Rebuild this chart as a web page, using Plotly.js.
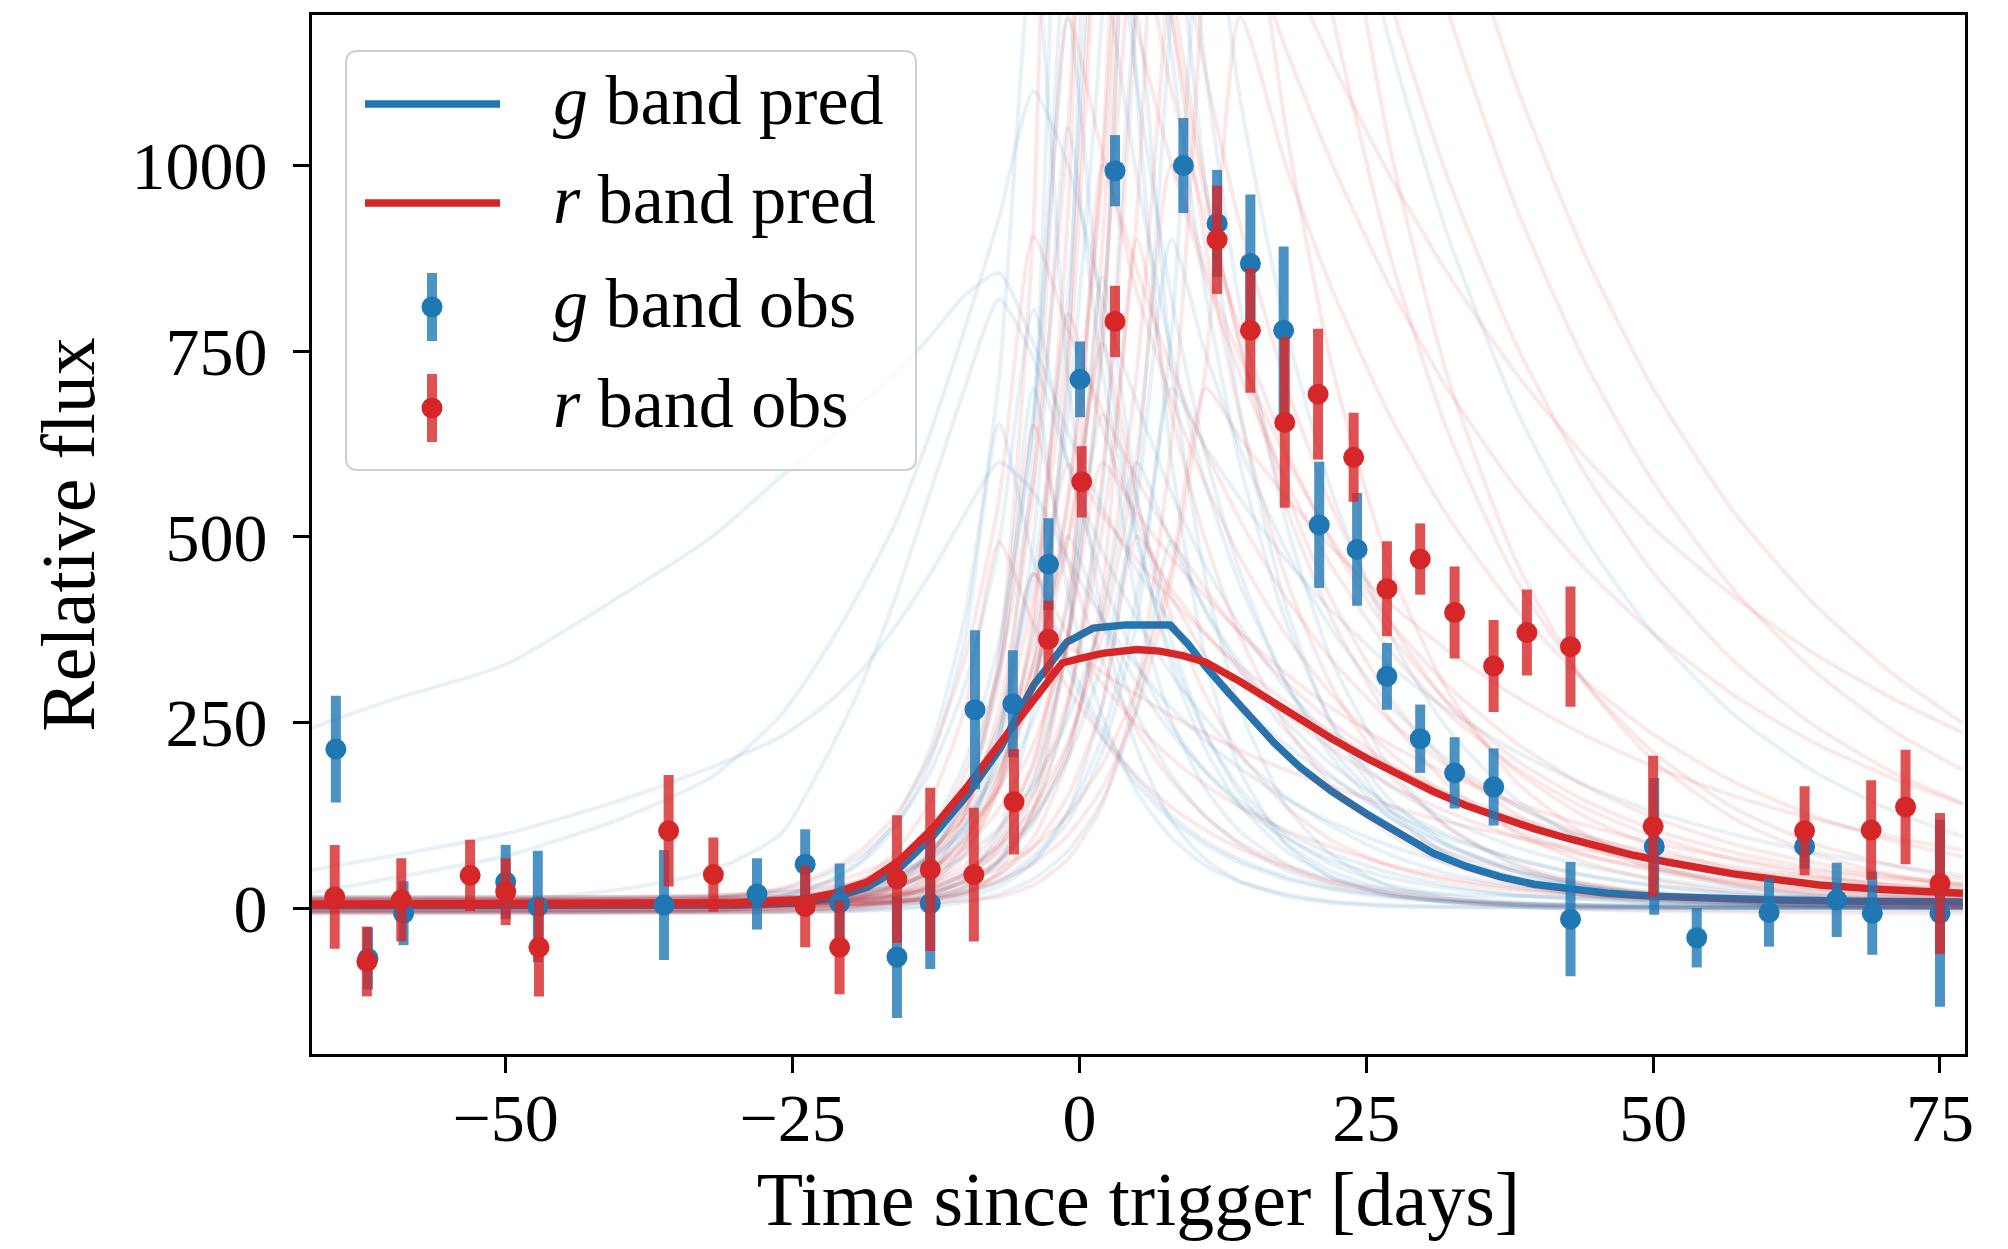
<!DOCTYPE html>
<html><head><meta charset="utf-8">
<script src="https://cdn.plot.ly/plotly-3.0.1.min.js"></script>
<style>html,body{margin:0;padding:0;background:#fff}#chart{width:2008px;height:1249px}</style>
</head><body><div id="chart"></div>
<script>
// ---------- data ----------
const xTickVals = [-50, -25, 0, 25, 50, 75];
const yTickVals = [0, 250, 500, 750, 1000];
const legendLabels = ['<i>g</i> band pred', '<i>r</i> band pred', '<i>g</i> band obs', '<i>r</i> band obs'];

// observations (days, flux, 1-sigma error)
const gObsDays = [-64.8,-62.0,-58.9,-50.0,-47.2,-36.2,-28.1,-23.9,-20.9,-15.9,-13.0,-9.1,-5.8,-2.7,0.05,3.1,9.06,12.0,14.9,17.8,20.9,24.2,26.8,29.7,32.7,36.1,42.8,50.1,53.8,60.1,63.2,66.0,69.1,75.0];
const gObsFlux = [214,-68,-7,35,2,4,19,59,7,-66,6,267,275,463,712,993,1000,922,868,778,516,483,312,228,182,163,-15,83,-40,-6,83,11,-7,-7];
const gObsErr  = [72,42,43,50,75,74,48,47,53,82,88,107,72,62,51,48,64,72,93,113,85,76,45,46,48,52,77,92,40,46,30,50,56,126];

const rObsDays = [-64.9,-62.1,-59.1,-53.1,-50.0,-47.1,-35.8,-31.9,-23.9,-20.9,-15.9,-13.0,-9.2,-5.7,-2.7,0.2,3.1,12.0,14.9,17.9,20.8,23.9,26.8,29.7,32.7,36.1,39.0,42.8,50.0,63.2,69.0,72.0,75.0];
const rObsFlux = [15,-72,11,44,22,-53,104,45,2,-53,39,52,45,143,362,574,790,900,778,654,692,607,430,470,398,326,371,352,110,104,105,136,33];
const rObsErr  = [70,47,56,48,45,66,75,50,55,63,86,110,90,71,52,48,48,73,84,115,88,60,64,48,62,62,58,81,95,60,67,77,95];

// mean predictions
const gPredDays = [-67,-40,-30,-24,-21.4,-18.5,-15.6,-12.7,-9.8,-6.9,-4,-1.1,1.2,4,7.9,9.5,11,13,15,17,19.2,22,25,28,30.8,33.7,36.7,39.6,42.5,46,50,55,60,68,77];
const gPredFlux = [3,3,4,7,14,28,55,98,152,215,300,358,377,381,381,355,325,290,255,222,190,157,127,99,74,56,42,32,26,20,16,13,11,9,8];
const rPredDays = [-67,-40,-30,-24.4,-21.4,-18.5,-15.6,-12.7,-9.8,-6.9,-4,-1.5,0,2,5,7,9,11,14,17,19.2,22,25,28,30.8,33.7,36.7,39.6,42.5,45.4,48.3,51.2,54.1,57,59.9,64.5,70,77];
const rPredFlux = [5,5,7,11,20,35,65,109,163,222,280,330,336,343,348,346,340,331,305,276,255,228,202,178,157,138,121,107,94,82,71,62,53,46,40,31,25,20];

// faint posterior sample curves, read on a common day grid
const sampleDays = [-67,-60,-50,-40,-32,-26,-22,-19,-16,-13,-10,-7,-4,-1,2,5,8,11,14,18,22,27,32,38,44,50,57,64,71,77];
const gSamples = [
 [242,280,328,420,500,581,630,680,720,770,825,855,760,640,540,455,385,325,275,220,175,130,95,66,45,31,20,13,9,6],
 [51,70,100,145,190,231,275,320,380,450,530,600,560,470,390,325,270,225,188,147,115,84,61,42,29,20,13,8,5,4],
 [20,40,70,120,177,260,350,430,520,640,780,930,1100,1000,820,680,560,460,380,295,230,165,120,82,57,40,26,17,11,7],
 [2,4,10,25,50,100,205,300,420,560,700,820,740,600,480,390,315,255,205,150,110,72,47,29,18,11,6,4,2,1],
 [6,6,6,6,6,6,8,13,25,52,110,234,496,1050,722,496,341,234,161,97,59,31,17,8,4,2,1,1,1,1],
 [-4,-4,-4,-4,-3,4,12,22,41,75,136,248,452,823,1500,1111,823,610,452,303,203,123,75,41,22,12,6,3,2,1],
 [10,10,10,10,10,11,13,18,35,74,156,331,700,425,258,156,95,57,35,19,9,4,2,1,1,1,0,0,0,0],
 [2,2,2,2,3,5,10,18,33,60,110,200,363,663,1208,2200,1577,1129,809,520,333,191,110,57,29,15,7,3,2,1],
 [14,14,14,14,15,17,20,27,41,68,112,184,303,500,389,303,236,184,143,102,73,48,31,18,12,7,4,2,1,1],
 [-6,-6,-6,-6,-6,-5,-4,-3,0,5,14,29,61,130,274,580,1228,2600,2238,1832,1501,1169,910,674,499,370,261,184,130,96],
 [8,8,8,8,8,8,8,9,10,14,28,65,153,361,850,554,361,235,153,87,49,24,12,6,3,1,0,0,0,0],
 [3,3,3,3,6,16,36,65,118,215,391,714,1300,714,391,215,118,65,36,16,7,2,1,1,0,0,0,0,0,0],
 [12,12,12,12,13,14,17,21,30,46,70,108,166,255,391,600,491,402,329,252,193,139,99,66,44,30,19,12,7,5],
 [-2,-2,-2,-2,-2,-1,0,3,11,31,85,230,625,1700,1294,985,750,571,435,304,213,134,85,49,29,17,9,5,3,1],
 [5,5,5,5,6,7,8,11,16,27,45,74,122,201,331,546,900,746,619,482,375,274,201,138,95,65,42,27,18,13],
 [9,9,9,9,9,10,10,11,13,20,35,63,114,209,380,261,179,123,85,51,31,17,9,4,2,1,1,0,0,0],
 [-5,-5,-5,-5,-5,-4,-2,0,4,10,21,38,70,127,231,421,768,1400,1090,781,560,369,243,147,90,54,30,17,10,6],
 [7,7,7,7,7,8,9,13,22,47,100,213,450,322,231,166,119,85,61,39,25,14,8,4,2,1,1,1,0,0],
 [1,1,1,1,1,1,2,3,6,13,28,60,126,268,566,1200,728,442,268,138,71,29,13,4,1,0,0,0,0,0],
 [11,11,11,11,11,12,14,19,33,71,149,316,669,1417,3000,2062,1417,974,669,406,246,132,72,34,17,8,4,2,1,0],
 [4,4,4,4,4,4,5,6,8,12,19,35,64,116,211,384,700,621,551,469,400,327,268,211,166,130,99,75,57,44],
 [5,5,5,7,13,25,45,71,113,183,299,491,805,598,444,331,246,183,137,94,64,41,27,17,12,9,7,6,5,5],
 [-3,-3,-3,-3,-1,5,15,30,57,106,195,358,656,1197,779,506,328,213,138,77,42,19,8,2,-1,-2,-3,-3,-3,-3],
 [15,15,15,15,17,21,27,35,47,68,103,160,254,410,665,410,254,160,103,60,38,25,19,16,15,15,15,15,15,15],
 [8,8,8,8,8,9,10,12,16,26,46,88,177,365,764,1608,1154,829,597,385,250,147,88,49,29,19,13,10,9,8],
 [2,2,2,3,6,16,34,61,109,198,359,652,468,336,241,174,125,90,65,42,27,17,10,6,4,3,2,2,2,2],
 [-6,-6,-6,-6,-6,-6,-5,-4,-2,2,8,19,39,77,145,268,494,398,320,239,178,123,84,53,32,19,9,3,-1,-2],
 [4,4,4,4,4,4,5,6,9,17,41,104,275,740,2004,1102,606,334,185,86,41,17,9,5,4,4,4,4,4,4]
];
const rSamples = [
 [4,4,4,4,5,6,9,15,27,49,90,164,300,545,994,1811,3300,2912,2570,2174,1841,1495,1214,946,737,574,429,320,238,186],
 [-3,-3,-3,-3,-2,0,3,8,17,36,75,159,337,714,1512,3200,2809,2465,2164,1816,1528,1227,988,761,587,452,333,246,182,141],
 [9,9,9,9,10,11,13,17,28,50,92,167,304,554,1010,1840,1653,1485,1334,1157,1003,839,701,567,458,370,287,223,174,140],
 [13,13,13,13,14,15,18,24,38,70,127,231,421,768,1400,1185,1003,849,719,576,460,348,264,189,135,97,65,45,30,21],
 [0,0,0,0,1,3,7,11,18,30,50,82,135,223,368,607,1000,861,741,607,497,387,301,223,165,122,86,61,43,32],
 [6,6,6,6,6,7,8,11,19,40,84,178,378,800,646,521,420,339,274,206,154,108,76,50,33,22,14,9,6,4],
 [-5,-5,-5,-5,-5,-4,-1,3,9,20,36,66,119,218,397,723,1317,2400,1990,1551,1207,883,646,444,305,210,135,87,57,39],
 [11,11,11,11,12,14,17,22,30,49,81,134,221,364,600,532,472,419,371,316,269,221,181,142,112,88,67,50,38,30],
 [2,2,2,2,2,2,3,5,8,18,38,80,169,357,756,1600,1246,971,756,541,389,256,168,102,62,38,22,13,8,5],
 [7,7,7,7,8,10,14,22,41,74,135,247,450,368,302,247,202,166,136,105,82,58,41,27,18,12,8,5,3,2],
 [15,15,15,15,15,15,16,17,19,24,44,94,199,422,893,1890,4000,3228,2605,1960,1473,1029,720,469,305,199,121,73,44,29],
 [-2,-2,-2,-2,-2,-1,0,4,13,30,71,168,396,933,2200,1630,1207,894,662,444,298,181,110,60,33,18,9,4,2,1],
 [5,5,5,5,5,6,6,7,9,13,22,36,60,98,162,268,441,728,1200,1000,834,665,530,403,307,234,170,124,90,69],
 [10,10,10,10,10,11,12,14,18,32,58,105,192,350,317,287,259,235,212,186,163,138,116,96,78,64,50,40,31,26],
 [-6,-6,-6,-6,-6,-5,-4,-2,3,10,21,45,95,201,425,900,667,494,366,245,164,100,60,33,18,10,5,3,1,1],
 [3,3,3,3,4,5,7,10,15,23,35,54,82,126,193,297,456,700,633,554,485,411,348,285,233,191,151,120,95,78],
 [8,8,8,8,8,8,8,9,10,12,18,50,135,368,1000,829,687,570,472,368,287,210,153,105,72,50,32,21,14,10],
 [12,12,12,12,12,13,14,15,18,26,46,85,155,281,512,933,1700,1560,1431,1277,1139,988,857,721,609,512,420,343,281,236],
 [1,1,1,1,1,2,7,15,32,68,145,307,650,466,334,239,172,123,88,57,36,21,12,6,3,2,1,1,1,1],
 [-4,-4,-4,-4,-4,-3,-1,2,7,14,25,45,83,151,274,500,430,370,319,261,214,166,130,96,71,53,37,26,18,14],
 [6,6,6,6,6,6,6,6,7,8,10,15,31,66,139,295,625,1322,2800,2400,2058,1699,1400,1112,882,700,534,410,314,249],
 [9,9,9,9,10,11,12,16,28,60,126,268,566,1200,1016,860,728,616,522,418,334,253,192,138,99,71,48,33,22,16],
 [3,3,3,3,3,3,4,7,17,46,124,338,920,2500,2047,1676,1372,1123,920,705,540,387,277,185,124,83,52,34,22,15],
 [4,4,4,6,12,27,49,78,126,205,335,550,904,779,671,578,498,429,370,304,250,195,152,114,86,64,46,34,25,19],
 [-3,-3,-3,-3,-2,1,6,13,27,51,96,178,326,597,529,469,416,368,326,278,236,192,156,122,96,75,56,42,31,23],
 [7,7,7,8,9,14,23,36,59,102,179,321,579,1050,1907,1516,1204,957,761,562,415,284,195,127,83,55,35,23,16,13],
 [14,14,14,15,17,21,28,38,53,79,121,190,304,492,803,1314,1103,928,780,618,492,370,279,200,145,106,75,54,41,33],
 [-7,-7,-7,-6,-4,4,18,38,76,144,267,493,382,296,229,177,136,105,80,55,34,20,10,2,-2,-4,-5,-6,-7,-7],
 [2,2,2,2,2,3,4,5,8,16,31,63,132,276,582,1230,2602,1981,1510,1050,730,462,295,171,100,59,32,18,11,7],
 [10,10,10,12,16,24,34,47,67,98,145,217,328,499,760,547,395,286,208,137,91,57,37,24,17,14,12,11,10,10]
];

// ---------- styling ----------
const BLUE = '#1f77b4', RED = '#d62728';
const BLUE_FAINT = 'rgba(31,119,180,0.10)', RED_FAINT = 'rgba(214,39,40,0.10)';
const BLUE_BAR = 'rgba(31,119,180,0.8)', RED_BAR = 'rgba(214,39,40,0.8)';
const FONT = 'Liberation Serif, Times New Roman, serif';

const traces = [];
gSamples.forEach(s => traces.push({x: sampleDays, y: s, type: 'scatter', mode: 'lines',
  line: {color: BLUE_FAINT, width: 4, shape: 'spline', smoothing: 0.6}, showlegend: false, hoverinfo: 'skip'}));
traces.push({x: gPredDays, y: gPredFlux, type: 'scatter', mode: 'lines', name: 'g band pred',
  line: {color: BLUE, width: 7.5}, showlegend: false});
rSamples.forEach(s => traces.push({x: sampleDays, y: s, type: 'scatter', mode: 'lines',
  line: {color: RED_FAINT, width: 4, shape: 'spline', smoothing: 0.6}, showlegend: false, hoverinfo: 'skip'}));
traces.push({x: rPredDays, y: rPredFlux, type: 'scatter', mode: 'lines', name: 'r band pred',
  line: {color: RED, width: 7.5}, showlegend: false});
traces.push({x: gObsDays, y: gObsFlux, type: 'scatter', mode: 'markers', name: 'g band obs',
  marker: {color: BLUE, size: 21}, showlegend: false,
  error_y: {type: 'data', array: gObsErr, visible: true, thickness: 10, width: 0, color: BLUE_BAR}});
traces.push({x: rObsDays, y: rObsFlux, type: 'scatter', mode: 'markers', name: 'r band obs',
  marker: {color: RED, size: 21}, showlegend: false,
  error_y: {type: 'data', array: rObsErr, visible: true, thickness: 10, width: 0, color: RED_BAR}});

// plot area in pixels
const ML = 312, MT = 15, MR = 43, MB = 195, FW = 2008, FH = 1249;
const PW = FW - ML - MR, PH = FH - MT - MB;
const px = x => (x - ML) / PW;
const py = y => (MT + PH - y) / PH;

// hand-drawn legend box (matplotlib style)
const bx0 = 346, bx1 = 916, by0 = 51, by1 = 470, rr = 12;
const P = (x, y) => px(x).toFixed(5) + ',' + py(y).toFixed(5);
const boxPath = 'M' + P(bx0 + rr, by0) + ' L' + P(bx1 - rr, by0) + ' Q' + P(bx1, by0) + ' ' + P(bx1, by0 + rr) +
  ' L' + P(bx1, by1 - rr) + ' Q' + P(bx1, by1) + ' ' + P(bx1 - rr, by1) +
  ' L' + P(bx0 + rr, by1) + ' Q' + P(bx0, by1) + ' ' + P(bx0, by1 - rr) +
  ' L' + P(bx0, by0 + rr) + ' Q' + P(bx0, by0) + ' ' + P(bx0 + rr, by0) + ' Z';
const rowY = [104, 203, 307, 408];
const shapes = [
  {type: 'path', xref: 'paper', yref: 'paper', path: boxPath, fillcolor: 'rgba(255,255,255,0.8)',
   line: {color: '#cfcfcf', width: 2}, layer: 'above'},
  {type: 'line', xref: 'paper', yref: 'paper', x0: px(365), x1: px(500), y0: py(rowY[0]), y1: py(rowY[0]),
   line: {color: BLUE, width: 7.5}, layer: 'above'},
  {type: 'line', xref: 'paper', yref: 'paper', x0: px(365), x1: px(500), y0: py(rowY[1]), y1: py(rowY[1]),
   line: {color: RED, width: 7.5}, layer: 'above'},
  {type: 'line', xref: 'paper', yref: 'paper', x0: px(432), x1: px(432), y0: py(rowY[2] - 34), y1: py(rowY[2] + 34),
   line: {color: BLUE_BAR, width: 10}, layer: 'above'},
  {type: 'circle', xref: 'paper', yref: 'paper', x0: px(421.5), x1: px(442.5), y0: py(rowY[2] - 10.5), y1: py(rowY[2] + 10.5),
   fillcolor: BLUE, line: {width: 0}, layer: 'above'},
  {type: 'line', xref: 'paper', yref: 'paper', x0: px(432), x1: px(432), y0: py(rowY[3] - 34), y1: py(rowY[3] + 34),
   line: {color: RED_BAR, width: 10}, layer: 'above'},
  {type: 'circle', xref: 'paper', yref: 'paper', x0: px(421.5), x1: px(442.5), y0: py(rowY[3] - 10.5), y1: py(rowY[3] + 10.5),
   fillcolor: RED, line: {width: 0}, layer: 'above'}
];
const annotations = legendLabels.map((t, i) => ({
  text: t, xref: 'paper', yref: 'paper', x: px(551), y: py(rowY[i] - 4), xanchor: 'left', yanchor: 'middle',
  showarrow: false, font: {family: FONT, size: 70, color: '#000'}
}));

const layout = {
  width: FW, height: FH,
  margin: {l: ML, r: MR, t: MT, b: MB, pad: 0},
  paper_bgcolor: '#fff', plot_bgcolor: '#fff',
  font: {family: FONT, color: '#000', size: 68},
  showlegend: false,
  xaxis: {
    range: [-66.88, 77.18], tickvals: xTickVals, ticks: 'outside', ticklen: 16, tickwidth: 3, tickcolor: '#000',
    ticklabelstandoff: -14,
    showline: true, linewidth: 3, linecolor: '#000', mirror: true, showgrid: false, zeroline: false,
    tickfont: {family: FONT, size: 68, color: '#000'}, automargin: false,
    title: {text: 'Time since trigger [days]', font: {family: FONT, size: 76, color: '#000'}, standoff: 18}
  },
  yaxis: {
    range: [-196.6, 1202.7], tickvals: yTickVals, ticks: 'outside', ticklen: 16, tickwidth: 3, tickcolor: '#000',
    ticklabelstandoff: 12,
    showline: true, linewidth: 3, linecolor: '#000', mirror: true, showgrid: false, zeroline: false,
    tickfont: {family: FONT, size: 68, color: '#000'}, automargin: false,
    title: {text: 'Relative flux', font: {family: FONT, size: 76, color: '#000'}, standoff: 12}
  },
  shapes: shapes,
  annotations: annotations
};

Plotly.newPlot('chart', traces, layout, {staticPlot: true, displayModeBar: false});
</script></body></html>
